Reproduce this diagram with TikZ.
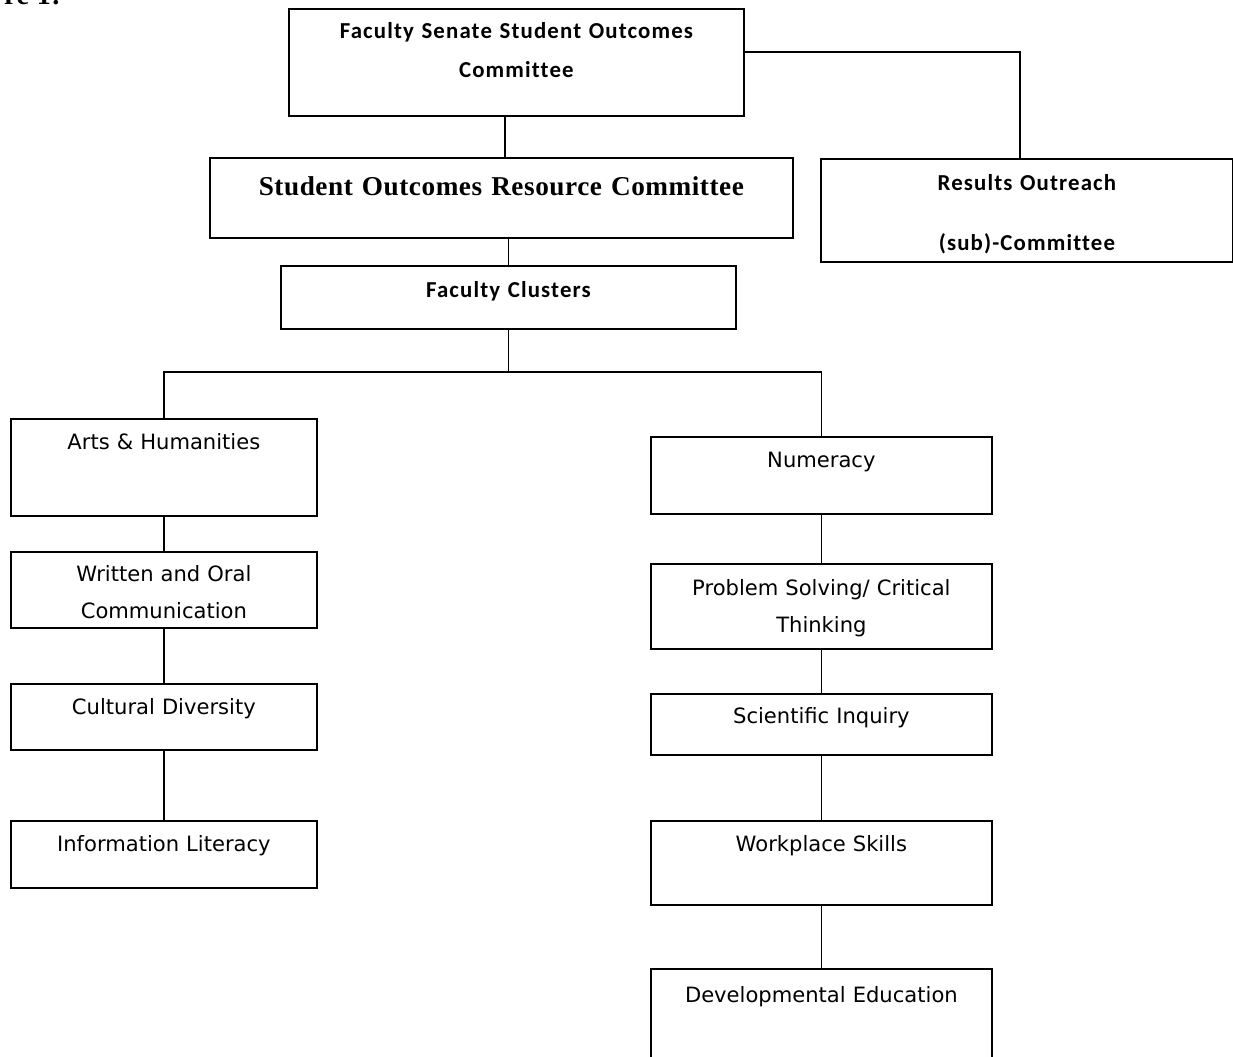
\documentclass[tikz,border=0pt]{standalone}
\usepackage{fontspec}
\setmainfont{DejaVu Sans}
\newfontfamily\calfont[LetterSpace=5, Ligatures=NoCommon]{Carlito}
\newfontfamily\timesfont[LetterSpace=2]{Liberation Serif}
\newdimen\px
\px=0.02cm
\tikzset{
  cbox/.style={draw, line width=1pt, anchor=north west, inner sep=0pt, align=center},
  hbold/.style={font=\calfont\bfseries\fontsize{13}{22}\selectfont},
  txt/.style={font=\fontsize{12}{21}\selectfont},
  conn/.style={line width=0.9pt},
}
\begin{document}
\begin{tikzpicture}[x=0.02cm, y=-0.02cm]
	\useasboundingbox (0,0) rectangle (1233,1057);
	\fill[white] (0,0) rectangle (1233,1057);
	\node[anchor=base west, font=\timesfont\bfseries\fontsize{16}{16}\selectfont] (fig) at (-2,5) {re 1:};
	\node[cbox, hbold, text width=455\px, text height=30\px, text depth=77\px] (fssoc) at (288,8) {Faculty Senate Student Outcomes\\Committee};
	\node[cbox, font=\timesfont\bfseries\fontsize{15.5}{18}\selectfont, text width=583\px, text height=38\px, text depth=42\px] (sorc) at (209,157) {Student Outcomes Resource Committee};
	\node[cbox, font=\calfont\bfseries\fontsize{13}{34}\selectfont, text width=412\px, text height=32\px, text depth=71\px] (rout) at (820,158) {Results Outreach\\(sub)-Committee};
	\node[cbox, hbold, text width=455\px, text height=32\px, text depth=31\px] (fclus) at (280,265) {Faculty Clusters};
	\node[cbox, txt, text width=306\px, text height=31\px, text depth=66\px] (arts) at (10,418) {Arts \& Humanities};
	\node[cbox, txt, text width=306\px, text height=30\px, text depth=46\px] (wrot) at (10,551) {Written and Oral\\Communication};
	\node[cbox, txt, text width=306\px, text height=31\px, text depth=35\px] (cult) at (10,683) {Cultural Diversity};
	\node[cbox, txt, text width=306\px, text height=31\px, text depth=36\px] (info) at (10,820) {Information Literacy};
	\node[cbox, txt, text width=341\px, text height=31\px, text depth=46\px] (num) at (650,436) {Numeracy};
	\node[cbox, txt, text width=341\px, text height=32\px, text depth=53\px] (prob) at (650,563) {Problem Solving/ Critical\\Thinking};
	\node[cbox, txt, text width=341\px, text height=30\px, text depth=31\px] (sci) at (650,693) {Scientific Inquiry};
	\node[cbox, txt, text width=341\px, text height=31\px, text depth=53\px] (work) at (650,820) {Workplace Skills};
	\node[cbox, txt, text width=341\px, text height=34\px, text depth=66\px] (devel) at (650,968) {Developmental Education};
	\coordinate (a) at (505,0);
	\coordinate (b) at (1020,52);
	\coordinate (bus) at (0,372);
	\draw[conn] (fssoc.south -| a) -- (sorc.north -| a);
	\draw[conn] (fssoc.east |- b) -- (b) -- (rout.north -| b);
	\draw[conn] (sorc.south -| fclus.north) -- (fclus.north);
	\draw[conn] (fclus.south) -- (fclus.south |- bus);
	\draw[conn] (arts.north) -- (arts.north |- bus) -- (num.north |- bus) -- (num.north);
	\foreach \a/\b in {arts/wrot, wrot/cult, cult/info, num/prob, prob/sci, sci/work, work/devel}
		\draw[conn] (\a.south) -- (\b.north);
\end{tikzpicture}
\end{document}
